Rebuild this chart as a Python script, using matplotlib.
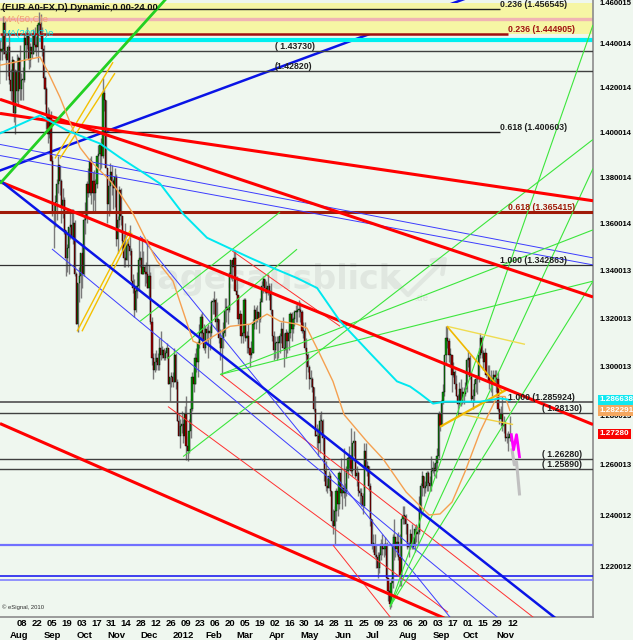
import numpy as np
import pandas as pd
import matplotlib
matplotlib.use("Agg")
import matplotlib.pyplot as plt
from matplotlib.transforms import blended_transform_factory as btf
from matplotlib.ticker import NullLocator

# ---------------- daily EUR/USD bars (from 2011-07-18, business days) ----------------
opens = [
1.4120,1.4110,1.4150,1.4220,1.4380, 1.4370,1.4380,1.4500,1.4360,1.4330, 1.4390,1.4240,1.4190,1.4330,1.4090,
1.4280,1.4190,1.4340,1.4200,1.4240, 1.4240,1.4430,1.4400,1.4440,1.4330, 1.4390,1.4360,1.4450,1.4400,1.4390,
1.4490,1.4500,1.4440,1.4380,1.4250, 1.4200,1.4080,1.4000,1.4080,1.3880, 1.3650,1.3650,1.3700,1.3780,1.3860,
1.3790,1.3680,1.3710,1.3580,1.3460, 1.3500,1.3590,1.3600,1.3550,1.3610, 1.3390,1.3180,1.3350,1.3380,1.3480,
1.3390,1.3620,1.3640,1.3780,1.3740, 1.3880,1.3740,1.3790,1.3740,1.3780, 1.3900,1.3910,1.3950,1.3900,1.4180,
1.4150,1.3850,1.3690,1.3770,1.3830, 1.3790,1.3760,1.3810,1.3540,1.3620, 1.3750,1.3640,1.3530,1.3460,1.3450,
1.3520,1.3510,1.3490,1.3360,1.3330, 1.3240,1.3320,1.3340,1.3450,1.3460, 1.3390,1.3420,1.3400,1.3390,1.3330,
1.3380,1.3190,1.3040,1.2990,1.3020, 1.3040,1.3010,1.3080,1.3050,1.3070, 1.3040,1.3060,1.3080,1.2930,1.2960,
1.2960,1.2940,1.3050,1.2940,1.2780, 1.2720,1.2760,1.2770,1.2720,1.2810, 1.2680,1.2660,1.2740,1.2830,1.2960,
1.2930,1.3040,1.3020,1.3100,1.3140, 1.3210,1.3140,1.3080,1.3160,1.3140, 1.3150,1.3140,1.3270,1.3270,1.3280,
1.3190,1.3200,1.3120,1.3080,1.3120, 1.3140,1.3240,1.3250,1.3240,1.3390, 1.3450,1.3420,1.3460,1.3320,1.3300,
1.3200,1.3220,1.3130,1.3140,1.3280, 1.3120,1.3130,1.3080,1.3050,1.3060, 1.3180,1.3240,1.3200,1.3230,1.3200,
1.3270,1.3340,1.3370,1.3330,1.3310, 1.3340,1.3320,1.3240,1.3130,1.3070, 1.3100,1.3100,1.3100,1.3130,1.3160,
1.3080,1.3070,1.3140,1.3110,1.3140, 1.3220,1.3160,1.3200,1.3230,1.3230, 1.3240,1.3240,1.3230,1.3150,1.3150,
1.3080,1.3050,1.3000,1.2950,1.2950, 1.2920,1.2830,1.2720,1.2720,1.2690, 1.2780,1.2780,1.2710,1.2580,1.2520,
1.2510,1.2560,1.2500,1.2380,1.2360, 1.2420,1.2500,1.2450,1.2570,1.2490, 1.2510,1.2490,1.2500,1.2580,1.2630,
1.2640,1.2580,1.2690,1.2700,1.2560, 1.2570,1.2500,1.2490,1.2480,1.2440, 1.2660,1.2590,1.2600,1.2520,1.2390,
1.2290,1.2290,1.2250,1.2240,1.2200, 1.2250,1.2290,1.2270,1.2270,1.2290, 1.2160,1.2110,1.2060,1.2140,1.2290,
1.2320,1.2270,1.2300,1.2240,1.2170, 1.2390,1.2400,1.2400,1.2370,1.2280, 1.2290,1.2330,1.2280,1.2290,1.2350,
1.2330,1.2340,1.2420,1.2520,1.2560, 1.2510,1.2520,1.2570,1.2530,1.2520, 1.2580,1.2590,1.2580,1.2610,1.2640,
1.2810,1.2760,1.2860,1.2900,1.3050, 1.3120,1.3110,1.3050,1.3050,1.2970, 1.2980,1.2930,1.2880,1.2850,1.2910,
1.2860,1.2900,1.2890,1.2910,1.3030, 1.3040,1.2960,1.2870,1.2880,1.2930, 1.2950,1.2950,1.3050,1.3120,1.3060,
1.3020,1.3060,1.2970,1.2970,1.2940, 1.2940,1.2950,1.2970,1.2960,1.2950, 1.2830,1.2790,1.2810,1.2760,1.2770,
1.2710,1.2710,1.2710]
highs = [
1.4150,1.4230,1.4240,1.4430,1.4420, 1.4450,1.4530,1.4510,1.4370,1.4400, 1.4450,1.4290,1.4350,1.4330,1.4290,
1.4360,1.4350,1.4400,1.4270,1.4300, 1.4450,1.4460,1.4480,1.4440,1.4410, 1.4450,1.4470,1.4480,1.4440,1.4500,
1.4550,1.4540,1.4480,1.4400,1.4260, 1.4210,1.4120,1.4110,1.4100,1.3900, 1.3700,1.3730,1.3800,1.3900,1.3860,
1.3800,1.3760,1.3720,1.3580,1.3520, 1.3590,1.3650,1.3670,1.3670,1.3620, 1.3400,1.3350,1.3420,1.3480,1.3510,
1.3630,1.3700,1.3790,1.3850,1.3890, 1.3900,1.3830,1.3840,1.3800,1.3900, 1.3950,1.3960,1.3980,1.4250,1.4200,
1.4150,1.3790,1.3800,1.3870,1.3860, 1.3800,1.3850,1.3820,1.3640,1.3770, 1.3760,1.3640,1.3560,1.3610,1.3540,
1.3540,1.3600,1.3500,1.3390,1.3370, 1.3340,1.3400,1.3550,1.3490,1.3550, 1.3490,1.3430,1.3440,1.3540,1.3430,
1.3400,1.3210,1.3060,1.3060,1.3070, 1.3060,1.3120,1.3150,1.3090,1.3080, 1.3070,1.3100,1.3080,1.2960,1.2980,
1.2980,1.3080,1.3060,1.2950,1.2810, 1.2790,1.2820,1.2790,1.2840,1.2880, 1.2720,1.2790,1.2870,1.2980,1.2990,
1.3060,1.3080,1.3110,1.3180,1.3220, 1.3230,1.3180,1.3170,1.3170,1.3180, 1.3170,1.3280,1.3290,1.3320,1.3290,
1.3270,1.3200,1.3160,1.3160,1.3190, 1.3290,1.3290,1.3260,1.3400,1.3450, 1.3450,1.3490,1.3490,1.3380,1.3300,
1.3240,1.3220,1.3150,1.3290,1.3290, 1.3150,1.3180,1.3080,1.3110,1.3200, 1.3260,1.3250,1.3260,1.3230,1.3290,
1.3360,1.3380,1.3370,1.3360,1.3390, 1.3350,1.3350,1.3240,1.3150,1.3130, 1.3130,1.3130,1.3140,1.3190,1.3210,
1.3140,1.3160,1.3150,1.3160,1.3230, 1.3230,1.3210,1.3240,1.3260,1.3270, 1.3280,1.3270,1.3240,1.3190,1.3190,
1.3120,1.3060,1.3010,1.2990,1.2960, 1.2920,1.2880,1.2770,1.2750,1.2810, 1.2820,1.2790,1.2710,1.2620,1.2550,
1.2580,1.2570,1.2500,1.2430,1.2440, 1.2510,1.2510,1.2580,1.2630,1.2520, 1.2670,1.2530,1.2600,1.2640,1.2680,
1.2750,1.2690,1.2740,1.2700,1.2600, 1.2580,1.2510,1.2510,1.2490,1.2690, 1.2690,1.2620,1.2600,1.2530,1.2390,
1.2330,1.2330,1.2290,1.2260,1.2260, 1.2310,1.2330,1.2290,1.2320,1.2300, 1.2160,1.2130,1.2160,1.2330,1.2390,
1.2320,1.2330,1.2340,1.2330,1.2390, 1.2440,1.2440,1.2410,1.2370,1.2300, 1.2350,1.2370,1.2320,1.2360,1.2370,
1.2350,1.2480,1.2530,1.2580,1.2560, 1.2540,1.2580,1.2580,1.2560,1.2640, 1.2620,1.2610,1.2630,1.2670,1.2820,
1.2810,1.2870,1.2930,1.3050,1.3170, 1.3172,1.3120,1.3080,1.3040,1.3020, 1.2990,1.2970,1.2890,1.2940,1.2950,
1.2920,1.2920,1.2940,1.3040,1.3070, 1.3050,1.2980,1.2910,1.2950,1.2970, 1.2970,1.3080,1.3140,1.3130,1.3070,
1.3080,1.3060,1.3010,1.3010,1.2990, 1.2960,1.2990,1.2990,1.2990,1.2980, 1.2830,1.2840,1.2880,1.2800,1.2780,
1.2730,1.2740,1.2800]
lows = [
1.4030,1.4090,1.4130,1.4180,1.4330, 1.4330,1.4360,1.4340,1.4240,1.4260, 1.4220,1.4150,1.4140,1.4050,1.4000,
1.4140,1.4130,1.4150,1.4150,1.4150, 1.4230,1.4340,1.4380,1.4290,1.4300, 1.4340,1.4360,1.4370,1.4350,1.4320,
1.4460,1.4420,1.4350,1.4200,1.4130, 1.4020,1.3960,1.3980,1.3880,1.3640, 1.3500,1.3590,1.3620,1.3740,1.3730,
1.3610,1.3630,1.3560,1.3380,1.3400, 1.3390,1.3540,1.3540,1.3520,1.3380, 1.3180,1.3145,1.3270,1.3290,1.3330,
1.3380,1.3560,1.3610,1.3720,1.3730, 1.3690,1.3650,1.3710,1.3650,1.3760, 1.3850,1.3840,1.3850,1.3890,1.4100,
1.3850,1.3610,1.3640,1.3660,1.3730, 1.3670,1.3680,1.3510,1.3480,1.3590, 1.3600,1.3490,1.3420,1.3420,1.3450,
1.3420,1.3470,1.3360,1.3310,1.3210, 1.3230,1.3290,1.3320,1.3420,1.3390, 1.3390,1.3340,1.3350,1.3330,1.3290,
1.3180,1.3010,1.2950,1.2980,1.2990, 1.2990,1.2990,1.3030,1.3040,1.3030, 1.3030,1.3040,1.2930,1.2860,1.2920,
1.2920,1.2940,1.2910,1.2780,1.2720, 1.2670,1.2730,1.2690,1.2710,1.2624, 1.2620,1.2650,1.2710,1.2820,1.2900,
1.2930,1.2980,1.2960,1.3080,1.3120, 1.3110,1.3070,1.3060,1.3110,1.3040, 1.3070,1.3120,1.3220,1.3220,1.3160,
1.3150,1.3100,1.3030,1.2970,1.3080, 1.3130,1.3190,1.3180,1.3230,1.3370, 1.3360,1.3400,1.3320,1.3260,1.3180,
1.3160,1.3100,1.3100,1.3130,1.3110, 1.3060,1.3060,1.3000,1.3040,1.3060, 1.3160,1.3160,1.3190,1.3140,1.3190,
1.3270,1.3310,1.3310,1.3280,1.3300, 1.3280,1.3220,1.3110,1.3030,1.3040, 1.3030,1.3040,1.3060,1.3100,1.3080,
1.3000,1.3040,1.3060,1.3070,1.3120, 1.3110,1.3140,1.3170,1.3190,1.3190, 1.3210,1.3190,1.3140,1.3120,1.3070,
1.2950,1.2980,1.2910,1.2920,1.2900, 1.2820,1.2720,1.2670,1.2640,1.2650, 1.2740,1.2660,1.2540,1.2500,1.2490,
1.2510,1.2480,1.2360,1.2330,1.2290, 1.2380,1.2400,1.2430,1.2480,1.2430, 1.2470,1.2440,1.2480,1.2550,1.2590,
1.2570,1.2560,1.2640,1.2550,1.2520, 1.2480,1.2450,1.2440,1.2410,1.2440, 1.2580,1.2560,1.2500,1.2360,1.2270,
1.2260,1.2240,1.2200,1.2160,1.2180, 1.2230,1.2250,1.2240,1.2250,1.2150, 1.2070,1.2042,1.2050,1.2120,1.2230,
1.2240,1.2250,1.2230,1.2130,1.2130, 1.2370,1.2370,1.2330,1.2270,1.2240, 1.2270,1.2270,1.2270,1.2260,1.2300,
1.2290,1.2330,1.2400,1.2480,1.2480, 1.2490,1.2500,1.2500,1.2500,1.2500, 1.2570,1.2560,1.2550,1.2580,1.2630,
1.2740,1.2760,1.2850,1.2880,1.3010, 1.3080,1.3020,1.3000,1.2900,1.2960, 1.2910,1.2880,1.2800,1.2840,1.2840,
1.2850,1.2850,1.2880,1.2900,1.3000, 1.2950,1.2860,1.2830,1.2860,1.2900, 1.2890,1.2940,1.3040,1.3040,1.2990,
1.3010,1.2960,1.2950,1.2910,1.2900, 1.2880,1.2940,1.2930,1.2900,1.2820, 1.2770,1.2760,1.2740,1.2730,1.2700,
1.2690,1.2660,1.2700]
closes = [
1.4110,1.4150,1.4220,1.4380,1.4370, 1.4380,1.4500,1.4360,1.4330,1.4390, 1.4240,1.4190,1.4330,1.4090,1.4280,
1.4190,1.4340,1.4200,1.4240,1.4240, 1.4430,1.4400,1.4440,1.4330,1.4390, 1.4360,1.4450,1.4400,1.4390,1.4490,
1.4500,1.4440,1.4380,1.4250,1.4200, 1.4080,1.4000,1.4080,1.3880,1.3650, 1.3650,1.3700,1.3780,1.3860,1.3790,
1.3680,1.3710,1.3580,1.3460,1.3500, 1.3590,1.3600,1.3550,1.3610,1.3390, 1.3180,1.3350,1.3380,1.3480,1.3390,
1.3620,1.3640,1.3780,1.3740,1.3880, 1.3740,1.3790,1.3740,1.3780,1.3900, 1.3910,1.3950,1.3900,1.4180,1.4150,
1.3850,1.3690,1.3770,1.3830,1.3790, 1.3760,1.3810,1.3540,1.3620,1.3750, 1.3640,1.3530,1.3460,1.3450,1.3520,
1.3510,1.3490,1.3360,1.3330,1.3240, 1.3320,1.3340,1.3450,1.3460,1.3390, 1.3420,1.3400,1.3390,1.3330,1.3380,
1.3190,1.3040,1.2990,1.3020,1.3040, 1.3010,1.3080,1.3050,1.3070,1.3040, 1.3060,1.3080,1.2930,1.2960,1.2960,
1.2940,1.3050,1.2940,1.2780,1.2720, 1.2760,1.2770,1.2720,1.2810,1.2680, 1.2660,1.2740,1.2830,1.2960,1.2930,
1.3040,1.3020,1.3100,1.3140,1.3210, 1.3140,1.3080,1.3160,1.3140,1.3150, 1.3140,1.3270,1.3270,1.3280,1.3190,
1.3200,1.3120,1.3080,1.3120,1.3140, 1.3240,1.3250,1.3240,1.3390,1.3450, 1.3420,1.3460,1.3320,1.3300,1.3200,
1.3220,1.3130,1.3140,1.3280,1.3120, 1.3130,1.3080,1.3050,1.3060,1.3180, 1.3240,1.3200,1.3230,1.3200,1.3270,
1.3340,1.3370,1.3330,1.3310,1.3340, 1.3320,1.3240,1.3130,1.3070,1.3100, 1.3100,1.3100,1.3130,1.3160,1.3080,
1.3070,1.3140,1.3110,1.3140,1.3220, 1.3160,1.3200,1.3230,1.3230,1.3240, 1.3240,1.3230,1.3150,1.3150,1.3080,
1.3050,1.3000,1.2950,1.2950,1.2920, 1.2830,1.2720,1.2720,1.2690,1.2780, 1.2780,1.2710,1.2580,1.2520,1.2510,
1.2560,1.2500,1.2380,1.2360,1.2420, 1.2500,1.2450,1.2570,1.2490,1.2510, 1.2490,1.2500,1.2580,1.2630,1.2640,
1.2580,1.2690,1.2700,1.2560,1.2570, 1.2500,1.2490,1.2480,1.2440,1.2660, 1.2590,1.2600,1.2520,1.2390,1.2290,
1.2290,1.2250,1.2240,1.2200,1.2250, 1.2290,1.2270,1.2270,1.2290,1.2160, 1.2110,1.2060,1.2140,1.2290,1.2320,
1.2270,1.2300,1.2240,1.2170,1.2390, 1.2400,1.2400,1.2370,1.2280,1.2290, 1.2330,1.2280,1.2290,1.2350,1.2330,
1.2340,1.2420,1.2520,1.2560,1.2510, 1.2520,1.2570,1.2530,1.2520,1.2580, 1.2590,1.2580,1.2610,1.2640,1.2810,
1.2760,1.2860,1.2900,1.3050,1.3120, 1.3110,1.3050,1.3050,1.2970,1.2980, 1.2930,1.2880,1.2850,1.2910,1.2860,
1.2900,1.2890,1.2910,1.3030,1.3040, 1.2960,1.2870,1.2880,1.2930,1.2950, 1.2950,1.3050,1.3120,1.3060,1.3020,
1.3060,1.2970,1.2970,1.2940,1.2940, 1.2950,1.2970,1.2960,1.2950,1.2830, 1.2790,1.2810,1.2760,1.2770,1.2710,
1.2710,1.2710,1.2728]
first_bar = "2011-07-18"

# moving averages as shown (bar index, price)
ma50_x = [3.7,30.6,35.4,44.1,52.2,57.6,64.3,71.0,77.8,84.5,93.3,100.0,109.4,120.2,133.7,138.4,145.1,158.6,172.1,
          183.5,192.3,203.7,210.4,219.2,227.9,235.4,250.8,261.6,277.1,292.6,300.0,308.1,316.8,327.0,338.4,343.8,347]
ma50_y = [1.4307,1.4344,1.4285,1.4162,1.4028,1.3938,1.3881,1.3837,1.3793,1.3736,1.3649,1.3562,1.3446,1.3360,1.3108,
          1.3095,1.3120,1.3170,1.3179,1.3221,1.3191,1.3179,1.3162,1.3053,1.2942,1.2806,1.2697,1.2628,1.2496,1.2405,
          1.2409,1.2456,1.2576,1.2737,1.2880,1.2880,1.2823]
ma200_x = [3.7,30.6,48.8,71.0,84.5,98.0,111.4,126.9,143.1,172.1,187.5,203.7,217.2,232.7,252.9,271.0,279.8,286.5,
           295.3,303.4,313.5,326.9,340.4,347]
ma200_y = [1.4001,1.4081,1.4014,1.3956,1.3894,1.3837,1.3780,1.3649,1.3545,1.3459,1.3416,1.3373,1.3331,1.3191,
           1.3058,1.2942,1.2921,1.2892,1.2851,1.2859,1.2859,1.2859,1.2872,1.2866]

# horizontal levels
fib_levels = [1.456545, 1.444905, 1.400603, 1.365415, 1.342863, 1.285924]
fib_texts = ["0.236 (1.456545)", "0.236 (1.444905)", "0.618 (1.400603)", "0.618 (1.365415)",
             "1.000 (1.342863)", "1.000 (1.285924)"]
sr_levels = [1.43730, 1.42820, 1.28130, 1.26280, 1.25890]
sr_texts = ["( 1.43730)", "(1.42820)", "( 1.28130)", "( 1.26280)", "( 1.25890)"]
blue_levels = [1.2287, 1.2166, 1.2151]
band = (1.4449, 1.4590)
pink_level = 1.4518
cyan_level = 1.4422

# trend lines: (bar0, price0, bar1, price1)
red_thick = [(3.7,1.4090,403.0,1.3705), (3.7,1.4153,403.0,1.3293), (3.7,1.3788,403.0,1.2766), (3.7,1.2770,340.4,1.1913)]
blue_thick = [(3.7,1.3837,323.6,1.4629), (3.7,1.3793,378.8,1.2001)]
blue_thin = [(3.7,1.3952,403.0,1.3459), (3.7,1.3903,403.0,1.3429), (38.7,1.3497,340.4,1.2001), (98.0,1.3553,307.9,1.2001)]
red_thin = [(160.0,1.3489,232.7,1.3170), (116.8,1.2839,305.4,1.2028), (152.5,1.2970,364.6,1.2001), (227.9,1.2287,267.7,1.2001)]
green_thick = [(3.7,1.3780,118.2,1.4632)]
green_thin = [(266.3,1.2050,403.0,1.4491), (266.3,1.2050,403.0,1.3846), (266.3,1.2050,403.0,1.3360),
              (151.9,1.2970,403.0,1.3360), (127.0,1.2637,403.0,1.3974), (151.9,1.2970,403.0,1.3579),
              (98.0,1.3191,192.3,1.3656), (116.3,1.3035,203.7,1.3496)]
yellow = [(40.7,1.3890,79.8,1.4321), (44.1,1.3890,81.1,1.4271), (55.6,1.3149,91.2,1.3575), (58.9,1.3149,92.6,1.3566),
          (304.7,1.3170,357.2,1.3095), (304.7,1.3170,341.8,1.2901), (300.0,1.2757,345.1,1.2909), (315.5,1.2806,349.2,1.2766)]
proj_pink_x = [348.0,349.5,351.5,353.5]
proj_pink_y = [1.2725,1.2664,1.2725,1.2636]
proj_gray_x = [348.5,350.0,351.5,353.5]
proj_gray_y = [1.2664,1.2604,1.2616,1.2488]

ytick_vals = [1.460015,1.440014,1.420014,1.400014,1.380014,1.360014,1.340013,1.320013,1.300013,1.280013,1.260013,1.240012,1.220012]
day_labels = ["08","22","05","19","03","17","31","14","28","12","26","09","23","06","20","05","19","02",
              "16","30","14","28","11","25","09","23","06","20","03","17","01","15","29","12"]
month_labels = ["Aug","Sep","Oct","Nov","Dec","2012","Feb","Mar","Apr","May","Jun","Jul","Aug","Sep","Oct","Nov"]
month_starts = ["2011-08-01","2011-09-01","2011-10-03","2011-11-01","2011-12-01","2012-01-02","2012-02-01","2012-03-01",
                "2012-04-02","2012-05-01","2012-06-01","2012-07-02","2012-08-01","2012-09-03","2012-10-01","2012-11-01"]

# ---------------- drawing ----------------
BG = "#eff7ef"
plt.rcParams["font.family"] = ["Liberation Sans", "DejaVu Sans"]

fig = plt.figure(figsize=(6.33, 6.40), dpi=100, facecolor=BG)
ax = fig.add_axes([0, 23/640, 593/633, 617/640], facecolor=BG)
ax.set_yscale("log")
ax.set_ylim(1.2010, 1.4606)
ax.set_xlim(3.70, 403.0)
ax.yaxis.set_major_locator(NullLocator()); ax.yaxis.set_minor_locator(NullLocator())
ax.xaxis.set_major_locator(NullLocator()); ax.xaxis.set_minor_locator(NullLocator())
for s in ["left", "top"]:
    ax.spines[s].set_visible(False)
for s in ["right", "bottom"]:
    ax.spines[s].set_color("#8c8c8c"); ax.spines[s].set_linewidth(1.2)

dates = pd.bdate_range(first_bar, periods=len(closes))
idx = np.arange(len(closes))
o = np.array(opens); h = np.array(highs); l = np.array(lows); c = np.array(closes)

# background band and horizontal levels
ax.axhspan(band[0], band[1], color="#f6f6a4", zorder=1, lw=0)
ax.axhline(pink_level, color="#f0b4b4", lw=2.4, zorder=1.2)
ax.axhline(cyan_level, color="#00f0f0", lw=3.0, zorder=1.2)

# blue thick rising line is under the band
b = blue_thick[0]
ax.plot([b[0], b[2]], [b[1], b[3]], color="#0a14e6", lw=1.8, zorder=0.8)

# watermark
WM = "#e0e7e0"
ax.text(186, 1.3365, "Tagesausblick", fontsize=24, fontweight="bold", color=WM,
        ha="center", va="center", zorder=0.5, family=["DejaVu Sans"])
ax.text(283, 1.3290, ".de", fontsize=7, fontweight="bold", color=WM, ha="left", va="center", zorder=0.5)
ax.plot([0.662, 0.688, 0.748], [0.548, 0.522, 0.578], transform=ax.transAxes, color=WM,
        lw=3.2, zorder=0.5, solid_capstyle="round")
ax.plot([0.728, 0.750, 0.746], [0.578, 0.580, 0.556], transform=ax.transAxes, color=WM,
        lw=3.2, zorder=0.5, solid_capstyle="round")

# candles
wl = np.minimum(l, np.minimum(o, c)); wh = np.maximum(h, np.maximum(o, c))
ax.vlines(idx, wl, wh, color="#7a7a7a", lw=1.0, zorder=3)
up = c >= o
body_lo = np.minimum(o, c); body_hi = np.maximum(o, c)
body_hi = np.where(body_hi - body_lo < 0.0004, body_lo + 0.0004, body_hi)
ax.bar(idx[up], (body_hi - body_lo)[up], bottom=body_lo[up], width=0.8, color="#0a9a0a",
       edgecolor="black", lw=0.3, zorder=3.2)
ax.bar(idx[~up], (body_hi - body_lo)[~up], bottom=body_lo[~up], width=0.8, color="#a00000",
       edgecolor="black", lw=0.3, zorder=3.2)

def seg(lst, **kw):
    for s in lst:
        ax.plot([s[0], s[2]], [s[1], s[3]], solid_capstyle="butt", **kw)

# horizontal lines
xr = ax.get_xlim()
ax.hlines(fib_levels[0], xr[0], 340.4, color="#202020", lw=1.0, zorder=4)
ax.hlines(fib_levels[1], xr[0], 345.8, color="#a01010", lw=1.8, zorder=4)
ax.hlines(fib_levels[2], xr[0], 340.4, color="#202020", lw=1.0, zorder=4)
ax.axhline(fib_levels[3], color="#a01a08", lw=2.2, zorder=4)
ax.axhline(fib_levels[4], color="#303030", lw=0.9, zorder=4)
ax.axhline(fib_levels[5], color="#505050", lw=1.2, zorder=4)
for lv in sr_levels:
    ax.axhline(lv, color="#404040", lw=1.0, zorder=4)
ax.axhline(blue_levels[0], color="#7070ff", lw=1.6, zorder=4)
ax.axhline(blue_levels[1], color="#2020f0", lw=1.2, zorder=4)
ax.axhline(blue_levels[2], color="#8080ff", lw=1.2, zorder=4)

seg(red_thin, color="#ff3030", lw=0.7, zorder=4)
seg(blue_thin, color="#3c3cff", lw=0.7, zorder=4)
seg(green_thin, color="#3ce63c", lw=0.8, zorder=4)
seg(yellow[:4], color="#f4c000", lw=1.0, zorder=4)
seg(yellow[4:5], color="#f0dc50", lw=1.0, zorder=4)
seg(yellow[5:6], color="#f0b800", lw=1.2, zorder=4)
seg(yellow[6:7], color="#f0b800", lw=1.6, zorder=4)
seg(yellow[7:], color="#f0d040", lw=1.0, zorder=4)
seg(red_thick, color="#ff0000", lw=2.2, zorder=4.2)
seg(blue_thick[1:], color="#0a14e6", lw=1.8, zorder=4.2)
seg(green_thick, color="#22d022", lw=2.0, zorder=4.2)

# moving averages
ax.plot(ma50_x, ma50_y, color="#f5a050", lw=1.0, zorder=5)
ax.plot(ma200_x, ma200_y, color="#00e8f0", lw=1.4, zorder=5)

# projection
ax.plot(proj_gray_x, proj_gray_y, color="#c0c0c0", lw=2.2, zorder=5)
ax.plot(proj_pink_x, proj_pink_y, color="#ff00ff", lw=2.0, zorder=5.1)

# level labels
tk = dict(fontsize=6.3, fontweight="bold", ha="left", va="bottom", zorder=6, clip_on=False)
ax.text(340.4, fib_levels[0], fib_texts[0], color="#202020", **tk)
ax.text(345.8, fib_levels[1], fib_texts[1], color="#a01010", **tk)
ax.text(340.4, fib_levels[2], fib_texts[2], color="#202020", **tk)
ax.text(345.8, fib_levels[3], fib_texts[3], color="#a01a08", **tk)
ax.text(340.4, fib_levels[4], fib_texts[4], color="#202020", **tk)
ax.text(345.8, fib_levels[5], fib_texts[5], color="#202020", **tk)
ax.text(188.9, sr_levels[0], sr_texts[0], color="#202020", **tk)
ax.text(188.9, sr_levels[1], sr_texts[1], color="#202020", **tk)
for lv, t in zip(sr_levels[2:], sr_texts[2:]):
    ax.text(368.7, lv, t, color="#202020", **tk)

# legend texts
ax.text(0.004, 0.995, "(EUR A0-FX,D) Dynamic,0.00-24.00", transform=ax.transAxes, fontsize=6.8,
        fontweight="bold", color="#101010", ha="left", va="top", zorder=7)
ax.text(0.004, 0.975, "MA(50,C)e", transform=ax.transAxes, fontsize=6.8, color="#f0a070",
        ha="left", va="top", zorder=7)
ax.text(0.004, 0.953, "MA(200,C)e", transform=ax.transAxes, fontsize=6.8, color="#00e0e8",
        ha="left", va="top", zorder=7)
ax.text(0.004, 0.012, "\u00a9 eSignal, 2010", transform=ax.transAxes, fontsize=4.2,
        color="#303030", ha="left", va="bottom", zorder=7)

# right price axis
tr = btf(ax.transAxes, ax.transData)
for v in ytick_vals:
    if v > 1.4595:
        ax.text(600/593, 1.4606, "%.6f" % v, transform=tr, fontsize=5.6, fontweight="bold",
                ha="left", va="top", clip_on=False)
    else:
        ax.text(600/593, v, "%.6f" % v, transform=tr, fontsize=5.6, fontweight="bold",
                ha="left", va="center", clip_on=False)
tags = [(ma200_y[-1], "1.286638", "#10e8f0"), (ma50_y[-1], "1.282291", "#f5a860"), (closes[-1], "1.27280", "#f80000")]
for v, t, col in tags:
    ax.text(599.5/593, v, t, transform=tr, fontsize=5.9, fontweight="bold", color="white", ha="left",
            va="center", clip_on=False, zorder=8,
            bbox=dict(boxstyle="square,pad=0.2", fc=col, ec="none"))

# date axis
trx = btf(ax.transData, fig.transFigure)
ticks = pd.date_range("2011-08-08", "2012-11-12", freq="14D")
for d, t in zip(ticks, day_labels):
    p = dates.get_loc(d)
    ax.text(p, 1 - 624/640, t, transform=trx, fontsize=6.8, fontweight="bold", ha="left", va="center", clip_on=False)
for d, t in zip(month_starts, month_labels):
    p = dates.get_loc(pd.Timestamp(d))
    ax.text(p, 1 - 635/640, t, transform=trx, fontsize=6.8, fontweight="bold", ha="left", va="center", clip_on=False)

fig.savefig("out.png", dpi=100, facecolor=BG)
